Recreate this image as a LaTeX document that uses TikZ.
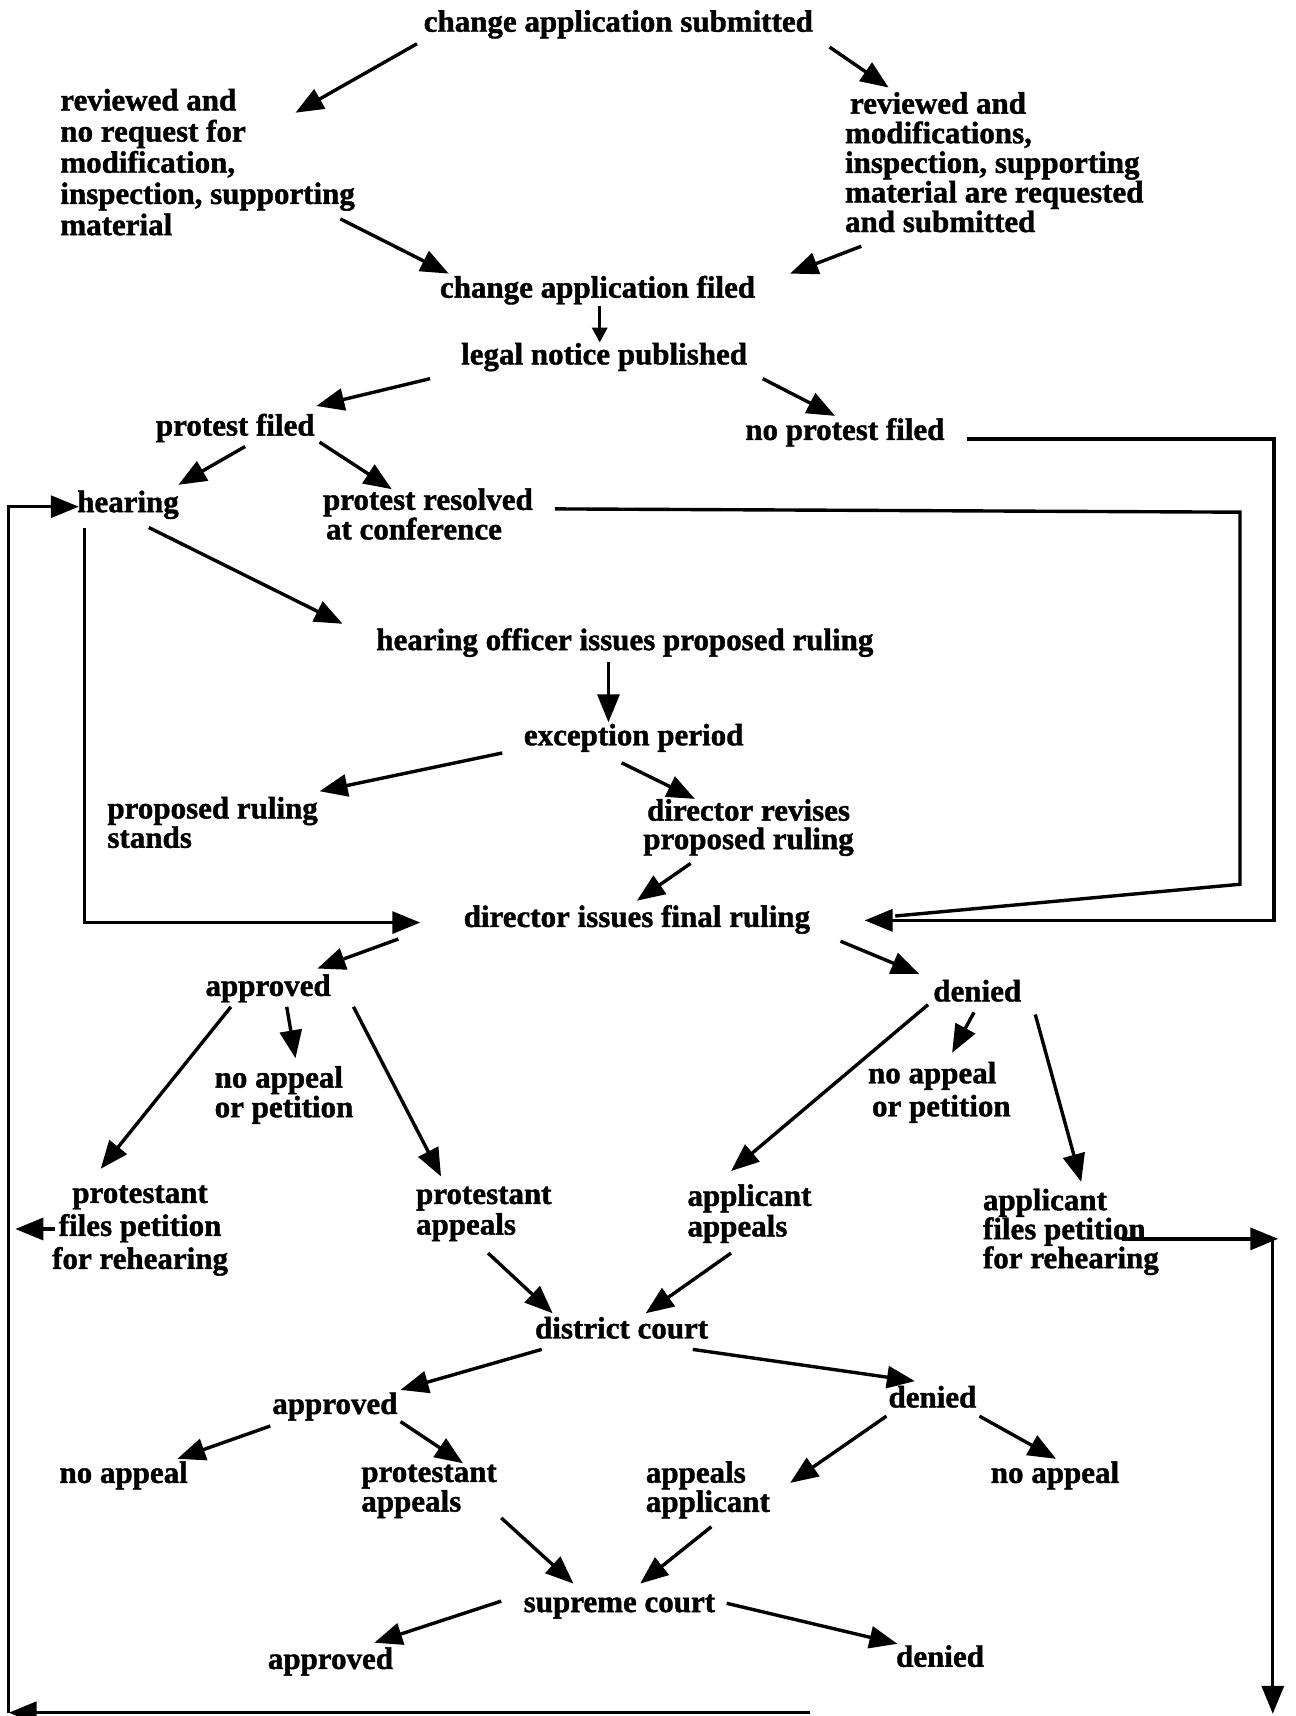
\documentclass[tikz,border=0pt]{standalone}
\usepackage{fontspec}
\setmainfont{Liberation Serif}[BoldFeatures={FakeBold=1.3}]
\usetikzlibrary{arrows.meta}
\begin{document}
\begin{tikzpicture}[x=1.0946pt,y=-1.0946pt,
  lbl/.style={inner sep=0pt, font=\fontsize{31}{31}\selectfont\bfseries},
  sl/.style={lbl, anchor=base},
  ml/.style={inner sep=0pt, align=left, anchor=north west,
    font=\fontsize{31}{#1}\selectfont\bfseries},
  mc/.style={inner sep=0pt, align=center, anchor=north,
    font=\fontsize{31}{#1}\selectfont\bfseries},
  ln/.style={line width=3.4pt, line join=miter},
  arr/.style={ln, -{Triangle[length=28pt,width=22pt]}},
  sarr/.style={ln, -{Triangle[length=15pt,width=15pt]}},
]
\useasboundingbox (0,0) rectangle (1184,1568);

% ---------- labels ----------
\node[sl] (sub) at (565,29) {change application submitted};
\node[ml=31.2] (revL) at (55,81) {reviewed and\\no request for\\modification,\\inspection, supporting\\material};
\node[ml=29.6] (revR) at (772,84) {\hspace{5pt}reviewed and\\modifications,\\inspection, supporting\\material are requested\\and submitted};
\node[sl] (filed) at (546,272) {change application filed};
\node[sl] (notice) at (552,333) {legal notice published};
\node[sl] (pfiled) at (215,398) {protest filed};
\node[sl] (nopf) at (772,402) {no protest filed};
\node[sl] (hear) at (117,468) {hearing};
\node[ml=29.6] (resolved) at (295,446) {protest resolved\\\hspace{3pt}at conference};
\node[sl] (officer) at (571,594) {hearing officer issues proposed ruling};
\node[sl] (exc) at (579,681) {exception period};
\node[ml=27.4] (stands) at (98,728) {proposed ruling\\stands};
\node[mc=28.5] (revises) at (684,730) {director revises\\proposed ruling};
\node[sl] (final) at (582,847) {director issues final ruling};
\node[sl] (appr1) at (245,910) {approved};
\node[sl] (den1) at (893,915) {denied};
\node[ml=29.6] (napL) at (196,974) {no appeal\\or petition};
\node[ml=33] (napR) at (793,970) {no appeal\\\hspace{4pt}or petition};
\node[mc=33] (pfp) at (128,1083) {protestant\\files petition\\for rehearing};
\node[ml=30.6] (pa1) at (380,1084) {protestant\\appeals};
\node[ml=30.6] (aa1) at (628,1082) {applicant\\appeals};
\node[ml=29] (afp) at (898,1086) {applicant\\files petition\\for rehearing};
\node[sl] (dc) at (568,1223) {district court};
\node[sl] (appr2) at (306,1292) {approved};
\node[sl] (den2) at (852,1286) {denied};
\node[sl] (noap2l) at (113,1355) {no appeal};
\node[ml=29.6] (pa2) at (330,1338) {protestant\\appeals};
\node[ml=28] (aa2) at (590,1335) {appeals\\applicant};
\node[sl] (noap2r) at (964,1355) {no appeal};
\node[sl] (sc) at (566,1473) {supreme court};
\node[sl] (appr3) at (302,1525) {approved};
\node[sl] (den3) at (859,1523) {denied};

% free ends of the rehearing loops
\coordinate (lp) at (14,1123);
\coordinate (bl) at (8,1565);
\coordinate (bm) at (740,1565);
\coordinate (rc) at (1168,1132);
\coordinate (rt) at (1163,1133);
\coordinate (rb) at (1163,1566);

% ---------- application stage ----------
\draw[arr] ([shift={(-184,11)}]sub.base) -- ([shift={(215,22)}]revL.north west);
\draw[arr] ([shift={(193,14)}]sub.base) -- ([shift={(40,-4)}]revR.north west);
\draw[arr] ([shift={(256,119)}]revL.north west) -- ([shift={(-136,-22)}]filed.base);
\draw[arr] ([shift={(15,141)}]revR.north west) -- ([shift={(176,-22)}]filed.base);
\draw[sarr] ([shift={(2,8)}]filed.base) -- ([shift={(-4,-20)}]notice.base);

% ---------- protest stage ----------
\draw[arr] ([shift={(-159,13)}]notice.base) -- ([shift={(74,-27)}]pfiled.base);
\draw[arr] ([shift={(145,13)}]notice.base) -- ([shift={(-9,-22)}]nopf.base);
\draw[arr] ([shift={(9,10)}]pfiled.base) -- ([shift={(46,-25)}]hear.base);
\draw[arr] ([shift={(77,6)}]pfiled.base) -- ([shift={(63,1)}]resolved.north west);
\draw[arr] ([shift={(19,14)}]hear.base) -- ([shift={(-258,-24)}]officer.base);
\draw[arr] ([shift={(-15,11)}]officer.base) -- ([shift={(-23,-21)}]exc.base);
\draw[arr] ([shift={(-120,7)}]exc.base) -- ([shift={(194,-5)}]stands.north west);
\draw[arr] ([shift={(-11,16)}]exc.base) -- ([shift={(-49,0)}]revises.north);
\draw[arr] ([shift={(-53,59)}]revises.north) -- ([shift={(0,-24)}]final.base);

% routes straight to the final ruling
\draw[arr] ([shift={(-40,14)}]hear.base) |- ([shift={(-198,-4)}]final.base);
\draw[arr] ([shift={(112,-1)}]nopf.base) -- ++(280,0) |- ([shift={(208,-6)}]final.base);
\draw[ln] ([shift={(212,19)}]resolved.north west) -- ++(626,3) -- ++(0,340)
  -- ([shift={(236,-10)}]final.base);

% ---------- final ruling ----------
\draw[arr] ([shift={(-218,11)}]final.base) -- ([shift={(45,-25)}]appr1.base);
\draw[arr] ([shift={(186,13)}]final.base) -- ([shift={(-53,-25)}]den1.base);
\draw[arr] ([shift={(-34,10)}]appr1.base) -- ([shift={(-36,-15)}]pfp.north);
\draw[arr] ([shift={(17,10)}]appr1.base) -- ([shift={(74,-7)}]napL.north west);
\draw[arr] ([shift={(78,10)}]appr1.base) -- ([shift={(23,-9)}]pa1.north west);
\draw[arr] ([shift={(-45,3)}]den1.base) -- ([shift={(40,-12)}]aa1.north west);
\draw[arr] ([shift={(-3,10)}]den1.base) -- ([shift={(77,-8)}]napR.north west);
\draw[arr] ([shift={(53,12)}]den1.base) -- ([shift={(90,-6)}]afp.north west);

% rehearing loops back to the hearing
\draw[arr] ([shift={(-78,40)}]pfp.north) -- (lp);
\draw[arr] ([shift={(127,46)}]afp.north west) -- (rc);
\draw[arr] (rt) -- (rb);
\draw[arr] (bm) -- (bl);
\draw[arr] (bl) |- ([shift={(-45,-5)}]hear.base);

% ---------- district court ----------
\draw[arr] ([shift={(66,61)}]pa1.north west) -- ([shift={(-63,-23)}]dc.base);
\draw[arr] ([shift={(40,63)}]aa1.north west) -- ([shift={(22,-23)}]dc.base);
\draw[arr] ([shift={(-73,10)}]dc.base) -- ([shift={(60,-22)}]appr2.base);
\draw[arr] ([shift={(65,10)}]dc.base) -- ([shift={(-16,-24)}]den2.base);
\draw[arr] ([shift={(-59,11)}]appr2.base) -- ([shift={(49,-22)}]noap2l.base);
\draw[arr] ([shift={(60,7)}]appr2.base) -- ([shift={(93,-1)}]pa2.north west);
\draw[arr] ([shift={(-42,8)}]den2.base) -- ([shift={(132,20)}]aa2.north west);
\draw[arr] ([shift={(43,8)}]den2.base) -- ([shift={(1,-22)}]noap2r.base);

% ---------- supreme court ----------
\draw[arr] ([shift={(128,49)}]pa2.north west) -- ([shift={(-42,-26)}]sc.base);
\draw[arr] ([shift={(60,60)}]aa2.north west) -- ([shift={(19,-26)}]sc.base);
\draw[arr] ([shift={(-108,-10)}]sc.base) -- ([shift={(40,-24)}]appr3.base);
\draw[arr] ([shift={(98,-8)}]sc.base) -- ([shift={(-39,-21)}]den3.base);
\end{tikzpicture}
\end{document}
